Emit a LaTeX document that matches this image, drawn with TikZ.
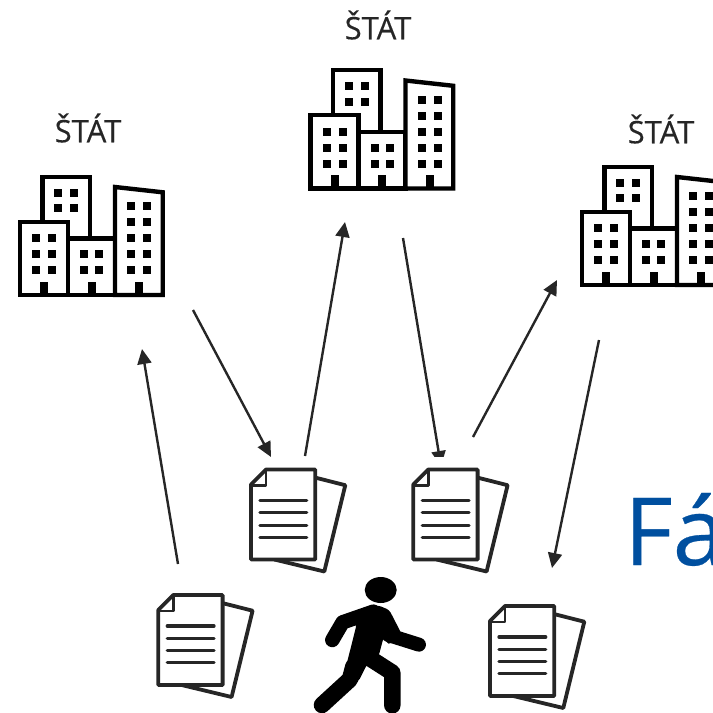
\documentclass[tikz,border=0pt]{standalone}
\usepackage{fontspec}
\setmainfont{Open Sans}
\newfontface\labelface{Open Sans}[FakeBold=0.3]
\usetikzlibrary{arrows.meta}
\definecolor{inkgray}{HTML}{262626}
\definecolor{titleblue}{HTML}{004F9F}
\tikzset{
    arrow/.style={draw=inkgray, line width=2.4pt, -{Triangle[length=15pt,width=14pt]}},
    statelabel/.style={text=inkgray, font=\labelface\fontsize{31}{31}\selectfont, inner sep=0pt},
    limb/.style={line width=#1, line cap=round, line join=round},
    building/.pic={
        \draw[line width=4.4pt, fill=white](22.3,0)--(22.3,-118.3)--(70,-118.3)--(70,0);
        \draw[line width=4.4pt, fill=white](48,0)--(48,-56.7)--(95,-56.7)--(95,0)--cycle;
        \draw[line width=4.4pt, fill=white](0,0)--(0,-73.3)--(48,-73.3)--(48,0)--cycle;
        \draw[line width=4.4pt, fill=white](95,0)--(95,-108)--(142.7,-102.7)--(142.7,0)--cycle;
        \foreach \wx in {16,32}\foreach \wy in {-57,-41,-25}\fill(\wx-4,\wy-4) rectangle ++(8,8);
        \foreach \wx in {38,54}\foreach \wy in {-102.3,-87}\fill(\wx-4,\wy-4) rectangle ++(8,8);
        \foreach \wx in {64,79}\foreach \wy in {-41,-25}\fill(\wx-4,\wy-4) rectangle ++(8,8);
        \foreach \wx in {111,127}\foreach \wy in {-89,-73,-57,-41,-25}\fill(\wx-4,\wy-4) rectangle ++(8,8);
        \foreach \wx in {24,71.7,119}\fill(\wx-4,-13.3) rectangle ++(8,13.3);
    },
    document/.pic={
        \draw[inkgray, line width=3.8pt, line join=round](65,-81.7)--(94.3,-74.3)--(73.3,12)--(23.3,0);
        \draw[inkgray, line width=3.8pt, line join=round, fill=white](0,0)--(0,-75)--(15,-90)--(64.3,-90)--(64.3,0)--cycle;
        \draw[inkgray, line width=2.6pt, line join=round](15,-90)--(15,-74)--(0,-74);
        \foreach \ly in {-59,-46.7,-34.3,-22.3}\draw[inkgray, line width=3.3pt, line cap=round](9,\ly)--(55.7,\ly);
    }
}
\begin{document}
\begin{tikzpicture}[x=1pt,y=-1pt]
    \useasboundingbox(0,0) rectangle (713,713);
    \clip(0,0) rectangle (713,713);

    % buildings
    \pic at (20,295){building};
    \pic at (310.5,188.5){building};
    \pic at (582,285){building};
    \node[statelabel] (stateA) at (88,128){ŠTÁT};
    \node[statelabel] (stateB) at (378,25){ŠTÁT};
    \node[statelabel] (stateC) at (661,129){ŠTÁT};

    % arrow ends
    \coordinate (a1) at (178,564);
    \coordinate (a2) at (142,349);
    \coordinate (b1) at (193,310);
    \coordinate (b2) at (271,457);
    \coordinate (c1) at (305,456);
    \coordinate (c2) at (345,222);
    \coordinate (d1) at (403,238);
    \coordinate (d2) at (441,466);
    \coordinate (e1) at (473,437);
    \coordinate (e2) at (557,280);
    \coordinate (f1) at (599,340);
    \coordinate (f2) at (552,568);
    \draw[arrow](a1)--(a2);
    \draw[arrow](b1)--(b2);
    \draw[arrow](c1)--(c2);
    \draw[arrow](d1)--(d2);
    \draw[arrow](e1)--(e2);
    \draw[arrow](f1)--(f2);
    \fill[white](420,457) rectangle (460,470);

    % papers
    \pic at (251,559.5){document};
    \pic at (413.3,559.5){document};
    \pic at (158.3,685){document};
    \pic at (490,696){document};

    % walker
    \fill(380.7,590) ellipse (16 and 13);
    \begin{scope}[shift={(140,560)},x=0.3333pt,y=-0.3333pt]
        \fill[rounded corners=3pt](600,168)--(715,136)--(748,150)--(785,222)--(745,255)--(732,228)
            --(716,288)--(680,315)--(655,365)--(610,352)--(650,193)--cycle;
        \draw[limb=14pt](745,225)--(837,254);
        \draw[limb=14.5pt](700,155)--(608,187)--(577,240);
        \draw[limb=16.5pt](640,320)--(630,358)--(546,435);
        \draw[limb=16.5pt](690,295)--(757,338)--(757,436);
    \end{scope}

    % heading
    \node[text=titleblue, font=\labelface\fontsize{94}{94}\selectfont, anchor=base west, inner sep=0pt] (title) at (624,565){Fá};
\end{tikzpicture}
\end{document}
